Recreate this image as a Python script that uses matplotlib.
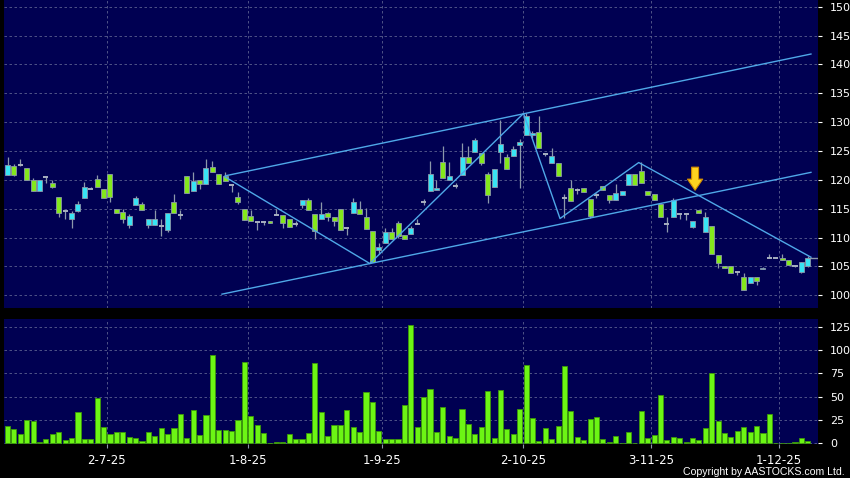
import numpy as np
import matplotlib.pyplot as plt

# daily prices, one entry per trading day (Jul - Dec 2025)
opens = [120.85, 122.4, 122.6, 122.1, 120.0, 118.1, 120.5, 119.5, 117.0, 114.6,
         113.2, 114.6, 116.9, 118.5, 120.2, 118.4, 121.1, 115.0, 114.4, 112.1,
         115.6, 115.9, 112.1, 112.1, 112.0, 111.3, 116.1, 113.9, 120.6, 118.1,
         119.9, 119.2, 122.3, 121.1, 120.7, 119.1, 117.1, 115.0, 113.8, 112.7,
         112.7, 112.9, 113.9, 113.9, 113.2, 112.4, 115.6, 116.5, 114.0, 113.3,
         114.2, 113.6, 115.0, 111.6, 114.3, 115.0, 113.5, 111.1, 107.8, 109.1,
         111.0, 112.6, 110.4, 110.7, 112.3, 116.2, 118.0, 118.2, 123.1, 120.0,
         119.0, 120.9, 123.9, 124.9, 124.6, 121.1, 118.7, 124.9, 123.9, 124.1,
         126.0, 127.7, 127.7, 128.3, 124.5, 122.9, 122.9, 116.9, 118.6, 118.2,
         118.6, 116.7, 117.3, 119.0, 117.4, 116.5, 117.4, 119.1, 121.1, 121.5,
         118.1, 117.5, 115.9, 112.3, 113.6, 114.0, 114.0, 111.8, 114.7, 111.0,
         112.0, 107.0, 105.1, 105.1, 104.0, 103.1, 102.2, 103.1, 104.5, 106.4,
         106.5, 106.5, 106.1, 105.1, 104.1, 105.1]
highs = [124.0, 122.8, 123.7, 122.1, 120.4, 120.0, 120.6, 119.9, 117.0, 114.6,
         114.6, 116.3, 119.7, 118.8, 120.8, 118.4, 121.1, 115.0, 114.9, 114.0,
         117.2, 116.2, 113.3, 114.7, 113.2, 114.2, 117.5, 114.8, 120.6, 121.3,
         119.9, 123.7, 123.2, 121.1, 121.4, 119.1, 117.9, 115.0, 114.7, 112.7,
         112.7, 112.9, 114.9, 113.9, 113.2, 112.9, 116.5, 116.8, 114.0, 116.1,
         114.4, 113.6, 115.0, 111.6, 116.9, 116.3, 115.2, 111.1, 109.1, 111.6,
         111.7, 112.9, 110.4, 112.0, 113.2, 116.6, 123.2, 120.0, 125.9, 123.1,
         119.4, 126.4, 125.8, 127.3, 124.6, 121.3, 121.8, 130.4, 124.5, 125.8,
         127.1, 131.6, 128.5, 131.1, 124.5, 125.5, 122.9, 117.5, 119.9, 118.6,
         118.6, 116.7, 117.8, 119.0, 117.4, 119.2, 118.1, 121.1, 121.1, 123.1,
         118.1, 117.5, 115.9, 113.5, 116.9, 114.0, 114.0, 112.8, 114.7, 114.4,
         112.0, 107.0, 105.1, 105.1, 104.2, 103.9, 103.1, 103.1, 104.9, 107.1,
         106.5, 107.1, 106.1, 105.2, 105.7, 106.8]
lows = [120.8, 120.6, 122.4, 119.9, 118.0, 118.1, 119.5, 118.6, 113.5, 113.2,
        111.6, 114.4, 116.9, 118.4, 118.7, 116.8, 116.1, 114.2, 112.6, 111.6,
        115.6, 114.7, 111.7, 112.1, 110.3, 111.0, 114.3, 113.2, 117.7, 118.1,
        118.4, 119.2, 121.4, 119.3, 119.8, 117.9, 115.8, 113.0, 112.9, 111.3,
        112.1, 112.5, 113.9, 111.7, 111.9, 112.0, 115.2, 114.8, 109.7, 113.3,
        112.9, 112.0, 111.3, 110.5, 114.3, 114.1, 111.4, 105.7, 107.1, 109.1,
        109.7, 110.0, 109.8, 110.7, 112.3, 115.7, 118.0, 118.2, 120.3, 120.0,
        118.6, 120.9, 122.9, 124.9, 122.6, 116.0, 118.7, 123.0, 121.8, 124.1,
        118.6, 127.7, 127.2, 125.5, 124.1, 122.9, 120.6, 113.4, 116.3, 117.6,
        117.9, 113.4, 116.9, 118.3, 116.0, 116.5, 117.4, 119.1, 119.1, 119.5,
        117.3, 116.5, 113.6, 111.0, 113.6, 113.2, 113.0, 111.6, 114.3, 111.0,
        107.1, 104.8, 104.7, 103.9, 103.6, 101.0, 102.2, 101.8, 104.5, 106.4,
        106.5, 106.2, 105.3, 104.9, 103.9, 104.9]
closes = [122.6, 120.85, 122.6, 120.0, 118.1, 120.0, 120.5, 118.7, 114.2, 114.6,
          114.3, 115.9, 118.8, 118.5, 118.7, 116.8, 117.0, 114.3, 113.3, 113.7,
          116.9, 114.7, 113.3, 113.2, 112.0, 114.2, 114.3, 113.9, 117.7, 119.8,
          119.2, 122.1, 121.4, 119.3, 119.8, 119.1, 116.2, 113.0, 112.9, 112.7,
          112.7, 112.5, 113.9, 112.6, 111.9, 112.4, 116.5, 114.8, 111.1, 114.0,
          113.6, 112.9, 111.3, 111.6, 116.1, 114.1, 111.4, 105.8, 108.3, 111.0,
          109.7, 110.3, 109.8, 111.7, 112.3, 116.2, 121.1, 118.6, 120.3, 120.6,
          119.0, 123.9, 122.9, 126.9, 123.0, 117.3, 121.8, 126.2, 121.8, 125.3,
          126.6, 131.1, 128.2, 125.5, 124.5, 124.2, 120.6, 116.9, 116.3, 118.2,
          117.9, 113.7, 117.3, 118.3, 116.5, 117.8, 118.1, 121.1, 119.1, 119.5,
          117.3, 116.5, 113.6, 112.3, 116.5, 114.0, 114.0, 112.8, 114.3, 113.5,
          107.1, 105.6, 104.7, 103.9, 104.0, 101.0, 103.1, 102.5, 104.7, 106.4,
          106.5, 106.2, 105.3, 105.1, 105.7, 106.5]
volumes = [18.9, 15.0, 9.6, 25.0, 24.3, 1.0, 4.3, 10.0, 11.8, 3.6,
           5.4, 34.0, 4.6, 4.3, 49.0, 17.5, 10.4, 11.8, 11.8, 6.8,
           5.4, 2.1, 12.1, 7.9, 16.0, 10.0, 16.0, 31.4, 5.4, 35.7,
           8.6, 30.4, 94.6, 13.9, 13.9, 12.9, 24.6, 87.1, 29.3, 20.0,
           10.7, 0.7, 1.8, 1.0, 9.6, 5.0, 4.6, 10.7, 85.7, 33.2,
           7.9, 19.3, 19.3, 35.4, 17.1, 12.5, 55.0, 44.6, 13.6, 4.6,
           4.6, 5.0, 41.4, 126.4, 17.1, 50.0, 57.9, 12.1, 38.6, 7.5,
           5.4, 36.8, 21.1, 10.0, 17.1, 55.7, 6.1, 57.1, 15.4, 10.4,
           37.1, 83.6, 27.1, 2.9, 16.1, 4.6, 18.6, 82.9, 35.0, 6.8,
           3.2, 26.1, 27.9, 4.6, 1.8, 7.5, 0.7, 11.8, 0.7, 34.3,
           5.7, 8.9, 51.8, 3.9, 6.8, 5.7, 1.4, 5.4, 3.6, 16.4,
           75.0, 23.6, 10.7, 7.1, 13.2, 17.1, 12.5, 18.6, 11.4, 31.4,
           0.7, 0.7, 0.7, 1.4, 6.1, 2.9]

# month starts (grid sits between bars)
date_pos = [15.5, 37.5, 58.5, 80.5, 100.5, 120.5]
date_labels = ["2-7-25", "1-8-25", "1-9-25", "2-10-25", "3-11-25", "1-12-25"]

# hand-drawn trend lines (bar index, price)
upper_x, upper_y = [34, 125.5], [120.7, 141.8]
lower_x, lower_y = [33.5, 125.5], [100.2, 121.3]
zigzag_x = [34, 56.6, 80.6, 86.3, 98.6, 125.5]
zigzag_y = [120.5, 105.5, 131.5, 113.3, 123.0, 106.6]
arrow_x, arrow_top, arrow_tip = 107.4, 122.2, 118.2

BG = '#000052'
CYAN = '#38e4f4'
GREEN = '#84e81c'
GRAY = '#8c98aa'
LINE = '#4fa8e8'
GRID = '#5c6090'

o = np.array(opens); c = np.array(closes)
h = np.array(highs); l = np.array(lows)
idx = np.arange(len(o))

fig = plt.figure(figsize=(8.5, 4.78), dpi=100, facecolor='black')
ax = fig.add_axes([4/850, 1-308/478, 814/850, 308/478])
axv = fig.add_axes([4/850, 1-444/478, 814/850, 125/478])

for a in (ax, axv):
    a.set_facecolor(BG)
    for s in a.spines.values():
        s.set_visible(False)
    a.set_xlim(-0.55, 126.6)
    a.set_xticks(date_pos)
    a.yaxis.tick_right()
    a.tick_params(axis='y', colors='white', labelsize=8, length=3, pad=5.5, width=0.8)
    a.grid(True, color=GRID, linestyle=(0, (3, 3)), linewidth=0.6)
    a.set_axisbelow(True)

ax.set_ylim(97.8, 151.16)
ax.set_yticks(np.arange(100, 151, 5))
ax.tick_params(axis='x', length=0, labelbottom=False)

axv.set_ylim(-0.75, 133.2)
axv.set_yticks(np.arange(0, 126, 25))
axv.set_xticklabels(date_labels)
axv.tick_params(axis='x', colors=GRAY, labelcolor='white', labelsize=8.5, length=3, pad=4)

# candles
up = c > o
down = c < o
flat = c == o
ax.vlines(idx, l, h, color=GRAY, linewidth=0.9, zorder=2)
ax.bar(idx[up], (c - o)[up], bottom=o[up], width=0.78, color=CYAN,
       edgecolor=GRAY, linewidth=0.6, zorder=3)
ax.bar(idx[down], (o - c)[down], bottom=c[down], width=0.78, color=GREEN,
       edgecolor=GRAY, linewidth=0.6, zorder=3)
ax.hlines(c[flat], idx[flat] - 0.4, idx[flat] + 0.4, color='#a8b0c0', linewidth=1.4, zorder=3)

# trend lines
ax.plot(upper_x, upper_y, color=LINE, linewidth=1, zorder=4)
ax.plot(lower_x, lower_y, color=LINE, linewidth=1, zorder=4)
ax.plot(zigzag_x, zigzag_y, color=LINE, linewidth=1, zorder=4)
ax.hlines(closes[-1], idx[-1], 126.6, color=GRAY, linewidth=1, zorder=4)

ax.annotate('', xy=(arrow_x, arrow_tip), xytext=(arrow_x, arrow_top),
            arrowprops=dict(arrowstyle='simple,head_length=0.8,head_width=1.1,tail_width=0.5',
                            fc='#ffd21f', ec='#d08a00', lw=0.8, shrinkA=0, shrinkB=0),
            zorder=5)

# volume
axv.bar(idx, volumes, width=0.8, color='#6cf514', edgecolor='#3c9a08', linewidth=0.6, zorder=3)

fig.text(845/850, 1-472/478, 'Copyright by AASTOCKS.com Ltd.', color='white',
         fontsize=7.6, family='Liberation Sans', ha='right', va='center')

fig.savefig('out.png', dpi=100, facecolor='black')
